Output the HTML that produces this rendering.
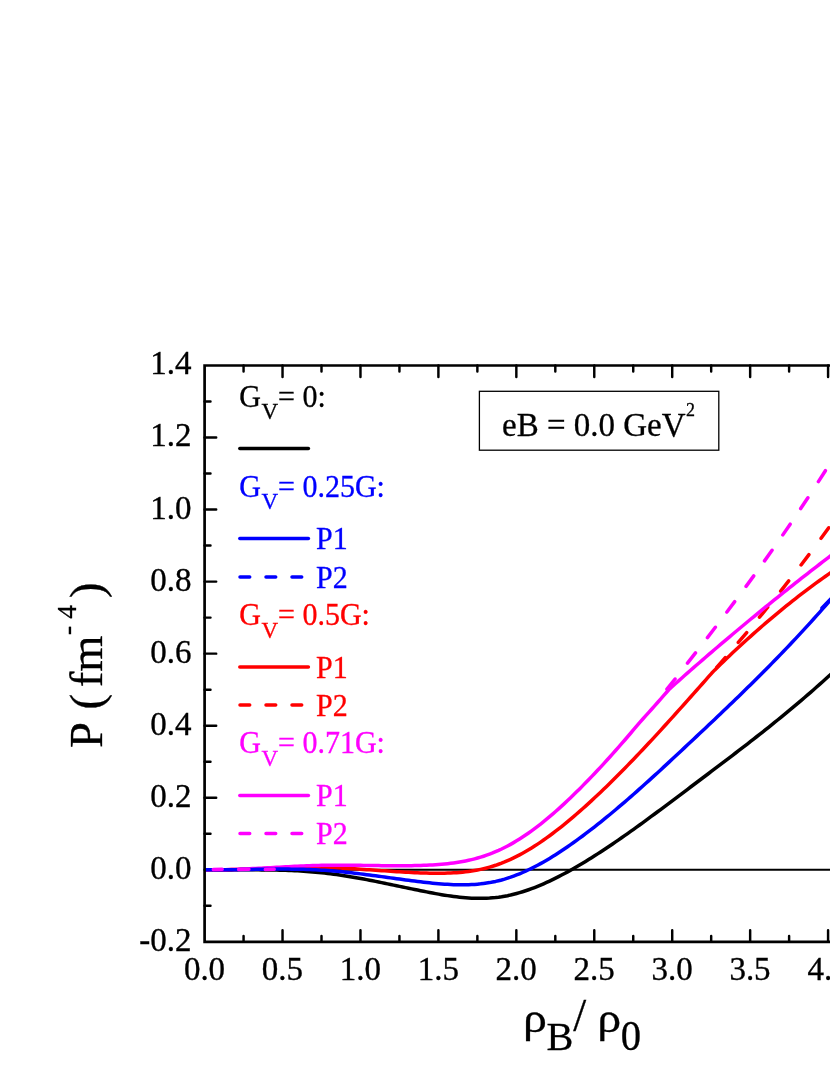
<!DOCTYPE html>
<html><head><meta charset="utf-8"><title>P vs rho_B/rho_0</title>
<style>
html,body{margin:0;padding:0;background:#fff;}
body{width:830px;height:1075px;position:relative;overflow:hidden;font-family:"Liberation Serif",serif;}
</style></head><body>
<svg width="830" height="1075" viewBox="0 0 830 1075" style="position:absolute;left:0;top:0;will-change:transform;font-family:'Liberation Serif',serif">
<rect width="830" height="1075" fill="#fff"/>
<g stroke="#000" fill="none" stroke-linecap="butt">
<path d="M243.57 941.8 v-5.9 M243.57 365.5 v5.9 M282.53 941.8 v-11.6 M282.53 365.5 v11.6 M321.50 941.8 v-5.9 M321.50 365.5 v5.9 M360.47 941.8 v-11.6 M360.47 365.5 v11.6 M399.44 941.8 v-5.9 M399.44 365.5 v5.9 M438.40 941.8 v-11.6 M438.40 365.5 v11.6 M477.37 941.8 v-5.9 M477.37 365.5 v5.9 M516.34 941.8 v-11.6 M516.34 365.5 v11.6 M555.31 941.8 v-5.9 M555.31 365.5 v5.9 M594.27 941.8 v-11.6 M594.27 365.5 v11.6 M633.24 941.8 v-5.9 M633.24 365.5 v5.9 M672.21 941.8 v-11.6 M672.21 365.5 v11.6 M711.18 941.8 v-5.9 M711.18 365.5 v5.9 M750.15 941.8 v-11.6 M750.15 365.5 v11.6 M789.11 941.8 v-5.9 M789.11 365.5 v5.9 M828.08 941.8 v-11.6 M828.08 365.5 v11.6 M204.6 905.78 h5.9 M204.6 869.76 h11.6 M204.6 833.74 h5.9 M204.6 797.72 h11.6 M204.6 761.70 h5.9 M204.6 725.68 h11.6 M204.6 689.66 h5.9 M204.6 653.64 h11.6 M204.6 617.62 h5.9 M204.6 581.60 h11.6 M204.6 545.58 h5.9 M204.6 509.56 h11.6 M204.6 473.54 h5.9 M204.6 437.52 h11.6 M204.6 401.50 h5.9" stroke-width="2.45" stroke-linecap="round"/>
</g>
<clipPath id="pc"><rect x="204.0" y="300" width="700" height="700"/></clipPath>
<g fill="none" stroke-width="3.50" stroke-linejoin="round" stroke-linecap="round" clip-path="url(#pc)">
<path d="M204.6 869.8 H840" stroke="#000" stroke-width="2.1" stroke-linecap="butt"/>
<path d="M204.6 869.81 L207.6 869.84 L210.6 869.86 L213.6 869.88 L216.6 869.89 L219.6 869.89 L222.6 869.89 L225.6 869.89 L228.6 869.88 L231.6 869.88 L234.6 869.87 L237.6 869.86 L240.6 869.86 L243.6 869.85 L246.6 869.85 L249.6 869.85 L252.6 869.85 L255.6 869.86 L258.6 869.87 L261.6 869.89 L264.6 869.92 L267.6 869.95 L270.6 869.99 L273.6 870.04 L276.6 870.10 L279.6 870.17 L282.6 870.26 L285.6 870.35 L288.6 870.46 L291.6 870.58 L294.6 870.72 L297.6 870.87 L300.6 871.04 L303.6 871.23 L306.6 871.43 L309.6 871.65 L312.6 871.89 L315.6 872.15 L318.6 872.43 L321.6 872.74 L324.6 873.06 L327.6 873.41 L330.6 873.78 L333.6 874.17 L336.6 874.59 L339.6 875.02 L342.6 875.47 L345.6 875.94 L348.6 876.42 L351.6 876.92 L354.6 877.44 L357.6 877.97 L360.6 878.51 L363.6 879.07 L366.6 879.64 L369.6 880.21 L372.6 880.80 L375.6 881.39 L378.6 882.00 L381.6 882.61 L384.6 883.22 L387.6 883.84 L390.6 884.46 L393.6 885.09 L396.6 885.71 L399.6 886.34 L402.6 886.97 L405.6 887.60 L408.6 888.22 L411.6 888.85 L414.6 889.46 L417.6 890.08 L420.6 890.69 L423.6 891.29 L426.6 891.88 L429.6 892.47 L432.6 893.04 L435.6 893.60 L438.6 894.14 L441.6 894.66 L444.6 895.15 L447.6 895.62 L450.6 896.07 L453.6 896.48 L456.6 896.86 L459.6 897.20 L462.6 897.50 L465.6 897.77 L468.6 897.98 L471.6 898.16 L474.6 898.28 L477.6 898.35 L480.6 898.37 L483.6 898.33 L486.6 898.23 L489.6 898.07 L492.6 897.84 L495.6 897.55 L498.6 897.19 L501.6 896.75 L504.6 896.24 L507.6 895.67 L510.6 895.02 L513.6 894.30 L516.6 893.52 L519.6 892.67 L522.6 891.76 L525.6 890.79 L528.6 889.77 L531.6 888.68 L534.6 887.54 L537.6 886.35 L540.6 885.10 L543.6 883.80 L546.6 882.46 L549.6 881.07 L552.6 879.63 L555.6 878.15 L558.6 876.63 L561.6 875.07 L564.6 873.48 L567.6 871.84 L570.6 870.17 L573.6 868.47 L576.6 866.74 L579.6 864.98 L582.6 863.19 L585.6 861.38 L588.6 859.54 L591.6 857.67 L594.6 855.78 L597.6 853.86 L600.6 851.92 L603.6 849.96 L606.6 847.98 L609.6 845.97 L612.6 843.95 L615.6 841.91 L618.6 839.85 L621.6 837.77 L624.6 835.68 L627.6 833.56 L630.6 831.44 L633.6 829.30 L636.6 827.15 L639.6 824.98 L642.6 822.80 L645.6 820.62 L648.6 818.42 L651.6 816.21 L654.6 813.99 L657.6 811.77 L660.6 809.54 L663.6 807.30 L666.6 805.06 L669.6 802.81 L672.6 800.56 L675.6 798.30 L678.6 796.05 L681.6 793.79 L684.6 791.53 L687.6 789.28 L690.6 787.02 L693.6 784.76 L696.6 782.51 L699.6 780.25 L702.6 778.00 L705.6 775.74 L708.6 773.48 L711.6 771.22 L714.6 768.96 L717.6 766.70 L720.6 764.43 L723.6 762.15 L726.6 759.88 L729.6 757.59 L732.6 755.31 L735.6 753.01 L738.6 750.71 L741.6 748.41 L744.6 746.09 L747.6 743.77 L750.6 741.44 L753.6 739.10 L756.6 736.75 L759.6 734.39 L762.6 732.03 L765.6 729.65 L768.6 727.26 L771.6 724.85 L774.6 722.44 L777.6 720.01 L780.6 717.57 L783.6 715.11 L786.6 712.64 L789.6 710.16 L792.6 707.66 L795.6 705.15 L798.6 702.62 L801.6 700.07 L804.6 697.50 L807.6 694.92 L810.6 692.32 L813.6 689.70 L816.6 687.06 L819.6 684.40 L822.6 681.72 L825.6 679.02 L828.6 676.30 L831.6 673.56 L834.6 670.79 L837.6 668.00 L840.6 665.19" stroke="#000"/>
<path d="M204.6 869.81 L207.6 869.84 L210.6 869.85 L213.6 869.85 L216.6 869.83 L219.6 869.81 L222.6 869.77 L225.6 869.72 L228.6 869.66 L231.6 869.60 L234.6 869.53 L237.6 869.45 L240.6 869.36 L243.6 869.27 L246.6 869.17 L249.6 869.07 L252.6 868.97 L255.6 868.87 L258.6 868.76 L261.6 868.65 L264.6 868.54 L267.6 868.44 L270.6 868.33 L273.6 868.23 L276.6 868.13 L279.6 868.03 L282.6 867.94 L285.6 867.85 L288.6 867.77 L291.6 867.70 L294.6 867.63 L297.6 867.58 L300.6 867.53 L303.6 867.49 L306.6 867.46 L309.6 867.45 L312.6 867.45 L315.6 867.46 L318.6 867.48 L321.6 867.52 L324.6 867.57 L327.6 867.65 L330.6 867.73 L333.6 867.83 L336.6 867.95 L339.6 868.07 L342.6 868.21 L345.6 868.36 L348.6 868.52 L351.6 868.69 L354.6 868.87 L357.6 869.05 L360.6 869.24 L363.6 869.44 L366.6 869.64 L369.6 869.84 L372.6 870.05 L375.6 870.25 L378.6 870.46 L381.6 870.67 L384.6 870.87 L387.6 871.08 L390.6 871.28 L393.6 871.48 L396.6 871.67 L399.6 871.85 L402.6 872.03 L405.6 872.20 L408.6 872.37 L411.6 872.52 L414.6 872.66 L417.6 872.79 L420.6 872.91 L423.6 873.02 L426.6 873.11 L429.6 873.18 L432.6 873.23 L435.6 873.27 L438.6 873.27 L441.6 873.25 L444.6 873.21 L447.6 873.12 L450.6 873.01 L453.6 872.85 L456.6 872.66 L459.6 872.42 L462.6 872.14 L465.6 871.81 L468.6 871.43 L471.6 870.99 L474.6 870.50 L477.6 869.95 L480.6 869.34 L483.6 868.67 L486.6 867.93 L489.6 867.12 L492.6 866.24 L495.6 865.29 L498.6 864.25 L501.6 863.14 L504.6 861.95 L507.6 860.68 L510.6 859.34 L513.6 857.92 L516.6 856.43 L519.6 854.86 L522.6 853.23 L525.6 851.53 L528.6 849.77 L531.6 847.94 L534.6 846.05 L537.6 844.09 L540.6 842.08 L543.6 840.02 L546.6 837.89 L549.6 835.72 L552.6 833.49 L555.6 831.21 L558.6 828.88 L561.6 826.51 L564.6 824.09 L567.6 821.63 L570.6 819.13 L573.6 816.59 L576.6 814.01 L579.6 811.40 L582.6 808.75 L585.6 806.07 L588.6 803.35 L591.6 800.60 L594.6 797.82 L597.6 795.01 L600.6 792.17 L603.6 789.30 L606.6 786.40 L609.6 783.48 L612.6 780.52 L615.6 777.55 L618.6 774.54 L621.6 771.51 L624.6 768.46 L627.6 765.39 L630.6 762.29 L633.6 759.18 L636.6 756.04 L639.6 752.88 L642.6 749.71 L645.6 746.51 L648.6 743.30 L651.6 740.08 L654.6 736.83 L657.6 733.58 L660.6 730.31 L663.6 727.02 L666.6 723.73 L669.6 720.42 L672.6 717.10 L675.6 713.78 L678.6 710.44 L681.6 707.10 L684.6 703.75 L687.6 700.39 L690.6 697.02 L693.6 693.65 L696.6 690.28 L699.6 686.89 L702.6 683.50 L705.6 680.10 L708.6 676.70 L711.6 673.28 L714.6 670.16 L717.6 667.22 L720.6 664.30 L723.6 661.41 L726.6 658.53 L729.6 655.68 L732.6 652.85 L735.6 650.04 L738.6 647.26 L741.6 644.49 L744.6 641.75 L747.6 639.03 L750.6 636.34 L753.6 633.67 L756.6 631.01 L759.6 628.38 L762.6 625.78 L765.6 623.19 L768.6 620.63 L771.6 618.09 L774.6 615.57 L777.6 613.08 L780.6 610.61 L783.6 608.16 L786.6 605.73 L789.6 603.32 L792.6 600.94 L795.6 598.58 L798.6 596.24 L801.6 593.92 L804.6 591.63 L807.6 589.36 L810.6 587.11 L813.6 584.88 L816.6 582.68 L819.6 580.49 L822.6 578.33 L825.6 576.20 L828.6 574.08 L831.6 571.99 L834.6 569.92 L837.6 567.87 L840.6 565.84" stroke="#f00"/>
<path d="M716.74 667.42 L725.26 657.61 M738.30 642.43 L746.70 632.51 M759.48 617.20 L767.72 607.15 M780.67 591.09 L788.73 580.89 M801.07 564.98 L808.93 554.63 M821.08 538.30 L828.72 527.79" stroke="#f00"/>
<path d="M204.6 869.81 L207.6 869.83 L210.6 869.84 L213.6 869.83 L216.6 869.81 L219.6 869.77 L222.6 869.72 L225.6 869.65 L228.6 869.57 L231.6 869.48 L234.6 869.38 L237.6 869.27 L240.6 869.15 L243.6 869.03 L246.6 868.89 L249.6 868.75 L252.6 868.60 L255.6 868.45 L258.6 868.29 L261.6 868.13 L264.6 867.97 L267.6 867.80 L270.6 867.63 L273.6 867.47 L276.6 867.30 L279.6 867.13 L282.6 866.97 L285.6 866.80 L288.6 866.64 L291.6 866.49 L294.6 866.34 L297.6 866.19 L300.6 866.05 L303.6 865.92 L306.6 865.80 L309.6 865.69 L312.6 865.58 L315.6 865.49 L318.6 865.40 L321.6 865.33 L324.6 865.27 L327.6 865.22 L330.6 865.19 L333.6 865.17 L336.6 865.16 L339.6 865.16 L342.6 865.16 L345.6 865.18 L348.6 865.20 L351.6 865.23 L354.6 865.27 L357.6 865.31 L360.6 865.35 L363.6 865.39 L366.6 865.44 L369.6 865.48 L372.6 865.53 L375.6 865.57 L378.6 865.62 L381.6 865.65 L384.6 865.69 L387.6 865.72 L390.6 865.74 L393.6 865.76 L396.6 865.77 L399.6 865.77 L402.6 865.76 L405.6 865.74 L408.6 865.71 L411.6 865.66 L414.6 865.60 L417.6 865.53 L420.6 865.44 L423.6 865.34 L426.6 865.22 L429.6 865.08 L432.6 864.91 L435.6 864.73 L438.6 864.51 L441.6 864.27 L444.6 863.99 L447.6 863.67 L450.6 863.32 L453.6 862.93 L456.6 862.50 L459.6 862.02 L462.6 861.49 L465.6 860.91 L468.6 860.27 L471.6 859.59 L474.6 858.84 L477.6 858.03 L480.6 857.15 L483.6 856.21 L486.6 855.20 L489.6 854.12 L492.6 852.97 L495.6 851.73 L498.6 850.42 L501.6 849.03 L504.6 847.55 L507.6 845.99 L510.6 844.35 L513.6 842.64 L516.6 840.85 L519.6 838.99 L522.6 837.05 L525.6 835.04 L528.6 832.97 L531.6 830.83 L534.6 828.62 L537.6 826.35 L540.6 824.02 L543.6 821.63 L546.6 819.18 L549.6 816.67 L552.6 814.11 L555.6 811.49 L558.6 808.83 L561.6 806.12 L564.6 803.35 L567.6 800.55 L570.6 797.70 L573.6 794.80 L576.6 791.87 L579.6 788.90 L582.6 785.88 L585.6 782.84 L588.6 779.75 L591.6 776.64 L594.6 773.48 L597.6 770.29 L600.6 767.08 L603.6 763.82 L606.6 760.54 L609.6 757.23 L612.6 753.88 L615.6 750.51 L618.6 747.11 L621.6 743.69 L624.6 740.23 L627.6 736.75 L630.6 733.25 L633.6 729.72 L636.6 726.17 L639.6 722.60 L642.6 719.27 L645.6 715.95 L648.6 712.62 L651.6 709.26 L654.6 705.89 L657.6 702.50 L660.6 699.09 L663.6 695.67 L666.6 692.23 L669.6 688.84 L672.6 686.17 L675.6 683.50 L678.6 680.85 L681.6 678.20 L684.6 675.55 L687.6 672.92 L690.6 670.29 L693.6 667.67 L696.6 665.05 L699.6 662.45 L702.6 659.85 L705.6 657.26 L708.6 654.67 L711.6 652.10 L714.6 649.53 L717.6 646.96 L720.6 644.41 L723.6 641.86 L726.6 639.32 L729.6 636.79 L732.6 634.27 L735.6 631.75 L738.6 629.24 L741.6 626.73 L744.6 624.24 L747.6 621.75 L750.6 619.27 L753.6 616.80 L756.6 614.33 L759.6 611.87 L762.6 609.42 L765.6 606.98 L768.6 604.54 L771.6 602.11 L774.6 599.69 L777.6 597.27 L780.6 594.87 L783.6 592.47 L786.6 590.08 L789.6 587.69 L792.6 585.31 L795.6 582.94 L798.6 580.58 L801.6 578.22 L804.6 575.88 L807.6 573.54 L810.6 571.20 L813.6 568.88 L816.6 566.56 L819.6 564.25 L822.6 561.94 L825.6 559.65 L828.6 557.36 L831.6 555.08 L834.6 552.80 L837.6 550.54 L840.6 548.28" stroke="#f0f"/>
<path d="M204.6 869.81 L207.6 869.84 L210.6 869.85 L213.6 869.86 L216.6 869.86 L219.6 869.85 L222.6 869.83 L225.6 869.81 L228.6 869.77 L231.6 869.74 L234.6 869.70 L237.6 869.66 L240.6 869.61 L243.6 869.56 L246.6 869.51 L249.6 869.46 L252.6 869.41 L255.6 869.36 L258.6 869.31 L261.6 869.27 L264.6 869.23 L267.6 869.19 L270.6 869.16 L273.6 869.13 L276.6 869.11 L279.6 869.10 L282.6 869.10 L285.6 869.10 L288.6 869.12 L291.6 869.14 L294.6 869.18 L297.6 869.22 L300.6 869.29 L303.6 869.36 L306.6 869.45 L309.6 869.55 L312.6 869.67 L315.6 869.80 L318.6 869.96 L321.6 870.13 L324.6 870.32 L327.6 870.53 L330.6 870.76 L333.6 871.00 L336.6 871.27 L339.6 871.55 L342.6 871.84 L345.6 872.15 L348.6 872.47 L351.6 872.81 L354.6 873.15 L357.6 873.51 L360.6 873.88 L363.6 874.25 L366.6 874.64 L369.6 875.03 L372.6 875.42 L375.6 875.82 L378.6 876.23 L381.6 876.64 L384.6 877.05 L387.6 877.46 L390.6 877.87 L393.6 878.28 L396.6 878.69 L399.6 879.10 L402.6 879.50 L405.6 879.90 L408.6 880.30 L411.6 880.68 L414.6 881.06 L417.6 881.44 L420.6 881.80 L423.6 882.15 L426.6 882.49 L429.6 882.82 L432.6 883.14 L435.6 883.43 L438.6 883.71 L441.6 883.96 L444.6 884.18 L447.6 884.37 L450.6 884.54 L453.6 884.67 L456.6 884.76 L459.6 884.81 L462.6 884.82 L465.6 884.79 L468.6 884.71 L471.6 884.58 L474.6 884.39 L477.6 884.15 L480.6 883.86 L483.6 883.50 L486.6 883.08 L489.6 882.60 L492.6 882.04 L495.6 881.42 L498.6 880.72 L501.6 879.95 L504.6 879.10 L507.6 878.17 L510.6 877.18 L513.6 876.11 L516.6 874.97 L519.6 873.77 L522.6 872.50 L525.6 871.16 L528.6 869.77 L531.6 868.31 L534.6 866.79 L537.6 865.22 L540.6 863.59 L543.6 861.91 L546.6 860.18 L549.6 858.39 L552.6 856.56 L555.6 854.68 L558.6 852.76 L561.6 850.79 L564.6 848.79 L567.6 846.74 L570.6 844.65 L573.6 842.53 L576.6 840.38 L579.6 838.19 L582.6 835.97 L585.6 833.72 L588.6 831.44 L591.6 829.14 L594.6 826.80 L597.6 824.44 L600.6 822.05 L603.6 819.63 L606.6 817.19 L609.6 814.73 L612.6 812.24 L615.6 809.73 L618.6 807.19 L621.6 804.64 L624.6 802.07 L627.6 799.48 L630.6 796.87 L633.6 794.24 L636.6 791.59 L639.6 788.93 L642.6 786.26 L645.6 783.56 L648.6 780.86 L651.6 778.14 L654.6 775.41 L657.6 772.67 L660.6 769.92 L663.6 767.16 L666.6 764.39 L669.6 761.62 L672.6 758.83 L675.6 756.04 L678.6 753.24 L681.6 750.44 L684.6 747.64 L687.6 744.83 L690.6 742.02 L693.6 739.21 L696.6 736.39 L699.6 733.57 L702.6 730.75 L705.6 727.92 L708.6 725.09 L711.6 722.25 L714.6 719.41 L717.6 716.56 L720.6 713.70 L723.6 710.84 L726.6 707.97 L729.6 705.08 L732.6 702.20 L735.6 699.30 L738.6 696.39 L741.6 693.47 L744.6 690.54 L747.6 687.60 L750.6 684.65 L753.6 681.68 L756.6 678.70 L759.6 675.71 L762.6 672.71 L765.6 669.69 L768.6 666.65 L771.6 663.61 L774.6 660.54 L777.6 657.46 L780.6 654.36 L783.6 651.25 L786.6 648.11 L789.6 644.96 L792.6 641.79 L795.6 638.60 L798.6 635.40 L801.6 632.17 L804.6 628.92 L807.6 625.65 L810.6 622.35 L813.6 619.04 L816.6 615.70 L819.6 612.34 L822.6 608.96 L825.6 605.55 L828.6 602.12 L831.6 598.66 L834.6 595.18 L837.6 591.67 L840.6 588.13" stroke="#00f"/>
<path d="M822.02 608.03 L830.98 598.62" stroke="#00f"/>
<path d="M666.95 689.15 L675.05 678.98 M687.50 663.19 L695.50 652.95 M707.44 637.56 L715.36 627.25 M726.90 612.07 L734.70 601.67 M746.06 586.35 L753.74 575.86 M764.54 560.87 L772.06 550.27 M782.82 534.88 L790.18 524.17 M800.71 508.59 L807.89 497.76 M818.40 481.65 L825.40 470.70 M835.99 453.83 L842.81 442.76" stroke="#f0f"/>
<path d="M213.3 869.4 L222.2 869.2" stroke="#f0f"/>
<path d="M238.6 869.4 L248.9 869.2" stroke="#f0f"/>
<path d="M265.3 869.4 L274.2 869.2" stroke="#f0f"/>
</g>
<path d="M840 365.5 H204.6 V941.8 H840" stroke="#000" fill="none" stroke-width="2.7" stroke-linejoin="miter"/>
<g font-size="33" fill="#000" stroke="#000" stroke-width="0.35">
<text transform="translate(204.5 980.4) scale(1 1.045)" text-anchor="middle">0.0</text>
<text transform="translate(282.4 980.4) scale(1 1.045)" text-anchor="middle">0.5</text>
<text transform="translate(360.4 980.4) scale(1 1.045)" text-anchor="middle">1.0</text>
<text transform="translate(438.3 980.4) scale(1 1.045)" text-anchor="middle">1.5</text>
<text transform="translate(516.2 980.4) scale(1 1.045)" text-anchor="middle">2.0</text>
<text transform="translate(594.2 980.4) scale(1 1.045)" text-anchor="middle">2.5</text>
<text transform="translate(672.1 980.4) scale(1 1.045)" text-anchor="middle">3.0</text>
<text transform="translate(750.0 980.4) scale(1 1.045)" text-anchor="middle">3.5</text>
<text transform="translate(828.0 980.4) scale(1 1.045)" text-anchor="middle">4.0</text>
<text transform="translate(191.6 950.7) scale(1 1.045)" text-anchor="end">-0.2</text>
<text transform="translate(191.6 878.7) scale(1 1.045)" text-anchor="end">0.0</text>
<text transform="translate(191.6 806.6) scale(1 1.045)" text-anchor="end">0.2</text>
<text transform="translate(191.6 734.6) scale(1 1.045)" text-anchor="end">0.4</text>
<text transform="translate(191.6 662.5) scale(1 1.045)" text-anchor="end">0.6</text>
<text transform="translate(191.6 590.5) scale(1 1.045)" text-anchor="end">0.8</text>
<text transform="translate(191.6 518.5) scale(1 1.045)" text-anchor="end">1.0</text>
<text transform="translate(191.6 446.4) scale(1 1.045)" text-anchor="end">1.2</text>
<text transform="translate(191.6 374.4) scale(1 1.045)" text-anchor="end">1.4</text>
</g>
<rect x="479.4" y="391.3" width="239.4" height="58.9" fill="#fff" stroke="#000" stroke-width="1.3"/>
<text transform="translate(502 436.1) scale(1 1.02)" font-size="33" stroke="#000" stroke-width="0.3">eB = 0.0 GeV<tspan font-size="18" dy="-19.8" dx="0.5">2</tspan></text>
<text transform="translate(239.2 406.8) scale(1 1.080)" font-size="30" fill="#000" stroke="#000" stroke-width="0.3">G</text>
<text x="261.5" y="419.4" font-size="23" fill="#000" stroke="#000" stroke-width="0.3">V</text>
<text transform="translate(278.0 406.8) scale(1 1.080)" font-size="30" fill="#000" stroke="#000" stroke-width="0.3">= 0:</text>
<path d="M239.8 448.4 H308.4" stroke="#000" stroke-width="3.5" stroke-linecap="round" fill="none"/>
<text transform="translate(239.2 496.8) scale(1 1.080)" font-size="30" fill="#00f" stroke="#00f" stroke-width="0.3">G</text>
<text x="261.5" y="509.4" font-size="23" fill="#00f" stroke="#00f" stroke-width="0.3">V</text>
<text transform="translate(278.0 496.8) scale(1 1.080)" font-size="30" fill="#00f" stroke="#00f" stroke-width="0.3">= 0.25G:</text>
<path d="M239.8 538.5 H308.4" stroke="#00f" stroke-width="3.5" stroke-linecap="round" fill="none"/>
<text transform="translate(316.1 549.2) scale(1 1.080)" font-size="30" fill="#00f" stroke="#00f" stroke-width="0.3">P1</text>
<path d="M240 577.1 H306" stroke="#00f" stroke-width="3.5" stroke-linecap="round" stroke-dasharray="9.7 16.3" fill="none"/>
<text transform="translate(316.1 587.8) scale(1 1.080)" font-size="30" fill="#00f" stroke="#00f" stroke-width="0.3">P2</text>
<text transform="translate(239.2 624.9) scale(1 1.080)" font-size="30" fill="#f00" stroke="#f00" stroke-width="0.3">G</text>
<text x="261.5" y="637.5" font-size="23" fill="#f00" stroke="#f00" stroke-width="0.3">V</text>
<text transform="translate(278.0 624.9) scale(1 1.080)" font-size="30" fill="#f00" stroke="#f00" stroke-width="0.3">= 0.5G:</text>
<path d="M239.8 667.0 H308.4" stroke="#f00" stroke-width="3.5" stroke-linecap="round" fill="none"/>
<text transform="translate(316.1 677.7) scale(1 1.080)" font-size="30" fill="#f00" stroke="#f00" stroke-width="0.3">P1</text>
<path d="M240 704.9 H306" stroke="#f00" stroke-width="3.5" stroke-linecap="round" stroke-dasharray="9.7 16.3" fill="none"/>
<text transform="translate(316.1 715.6) scale(1 1.080)" font-size="30" fill="#f00" stroke="#f00" stroke-width="0.3">P2</text>
<text transform="translate(239.2 753.4) scale(1 1.080)" font-size="30" fill="#f0f" stroke="#f0f" stroke-width="0.3">G</text>
<text x="261.5" y="766.0" font-size="23" fill="#f0f" stroke="#f0f" stroke-width="0.3">V</text>
<text transform="translate(278.0 753.4) scale(1 1.080)" font-size="30" fill="#f0f" stroke="#f0f" stroke-width="0.3">= 0.71G:</text>
<path d="M239.8 795.5 H308.4" stroke="#f0f" stroke-width="3.5" stroke-linecap="round" fill="none"/>
<text transform="translate(316.1 806.2) scale(1 1.080)" font-size="30" fill="#f0f" stroke="#f0f" stroke-width="0.3">P1</text>
<path d="M240 833.4 H306" stroke="#f0f" stroke-width="3.5" stroke-linecap="round" stroke-dasharray="9.7 16.3" fill="none"/>
<text transform="translate(316.1 844.1) scale(1 1.080)" font-size="30" fill="#f0f" stroke="#f0f" stroke-width="0.3">P2</text>
<g transform="translate(101.8 748) rotate(-90)" font-size="46.5" fill="#000" stroke="#000" stroke-width="0.3">
<text x="0" y="0">P</text>
<text x="38.4" y="0">(</text>
<text x="60.8" y="0">fm</text>
<text x="113" y="-26" font-size="27.5">-</text>
<text x="129.3" y="-26" font-size="27.5">4</text>
<text x="150" y="0">)</text>
</g>
<g fill="#000" stroke="#000" stroke-width="0.3">
<text transform="translate(523.0 1032.0) scale(1.03 0.90)" font-size="46.5">ρ</text>
<text transform="translate(546.5 1049.6) scale(1.02 1.03)" font-size="39.5">B</text>
<text x="573.3" y="1031.3" font-size="46.5">/</text>
<text transform="translate(597.2 1032.0) scale(1.03 0.90)" font-size="46.5">ρ</text>
<text transform="translate(620.7 1049.8) scale(1.03 1.06)" font-size="39.5">0</text>
</g>
</svg>
</body></html>
